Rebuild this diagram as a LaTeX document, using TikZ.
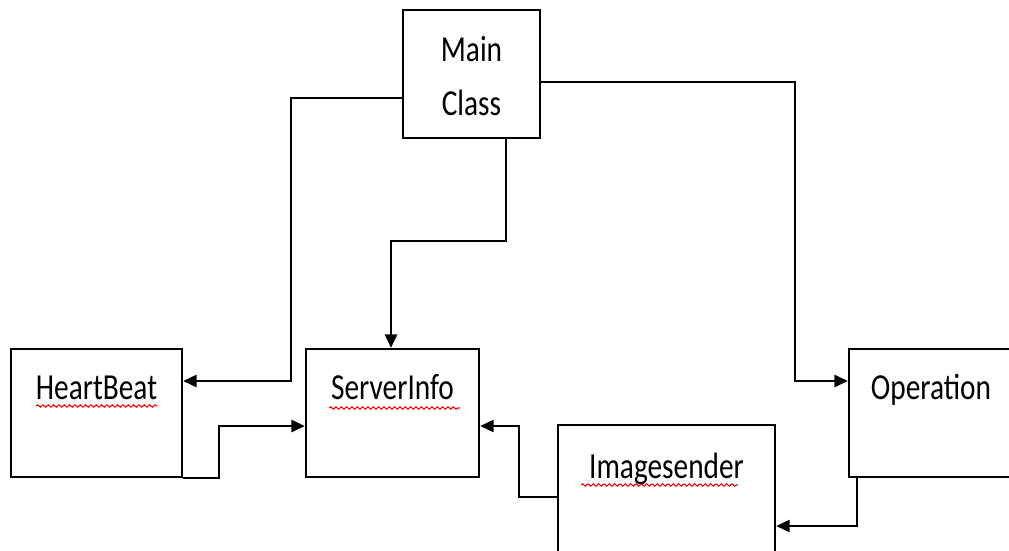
\documentclass[tikz,border=0pt]{standalone}
\usepackage{fontspec}
\setmainfont{Carlito}
\usepackage{graphicx}
\usepackage{tikz}
\usetikzlibrary{arrows.meta,decorations.pathmorphing}
\newcommand{\tallt}[1]{\scalebox{1}[1.25]{#1}}

\begin{document}
\begin{tikzpicture}[
  x=0.75pt, y=-0.75pt, >={Triangle[length=10pt,width=9pt]},
  line width=1.8pt,
  cls/.style={draw, line width=1.8pt, inner sep=0pt, align=center,
              font=\fontsize{22}{40}\selectfont, text height=38pt, text depth=58pt},
  squig/.style={draw=red, line width=0.8pt, decorate,
                decoration={snake, segment length=4pt, amplitude=0.9pt}}]
\clip (0,0) rectangle (1009,550);
\node[cls, minimum width=102.75pt, text height=78.75pt, text depth=17.25pt] (main) at (471.5,74) {\tallt{Main}\\\tallt{Class}};
\node[cls, minimum width=128.25pt] (hb)   at (96.5,413)  {\tallt{HeartBeat}};
\node[cls, minimum width=129.75pt] (si)   at (392.5,413) {\tallt{ServerInfo}};
\node[cls, minimum width=162.75pt, text height=39.75pt, text depth=61.5pt] (img) at (666.5,492.5) {\tallt{Imagesender}};
\node[cls, minimum width=123pt]    (op)   at (931,413)   {\tallt{Operation}};
% spelling marks
\draw[squig] (36,406) -- (157,406);
\draw[squig] (329,408) -- (460,408);
\draw[squig] (581,485) -- (738,485);
% connectors
\draw[->] (main.west |- 0,98) -| (291,381) -- (hb.east |- 0,381);
\draw[->] (main.south -| 506,0) |- (391,241) -- (si.north -| 391,0);
\draw[->] (main.east |- 0,82) -| (795,381) -- (op.west |- 0,381);
\draw[->] (hb.south east) -| (219,426) -- (si.west |- 0,426);
\draw[->] (img.west |- 0,497) -| (519,426) -- (si.east |- 0,426);
\draw[->] (op.south -| 857,0) |- (img.east |- 0,526);
\end{tikzpicture}
\end{document}
